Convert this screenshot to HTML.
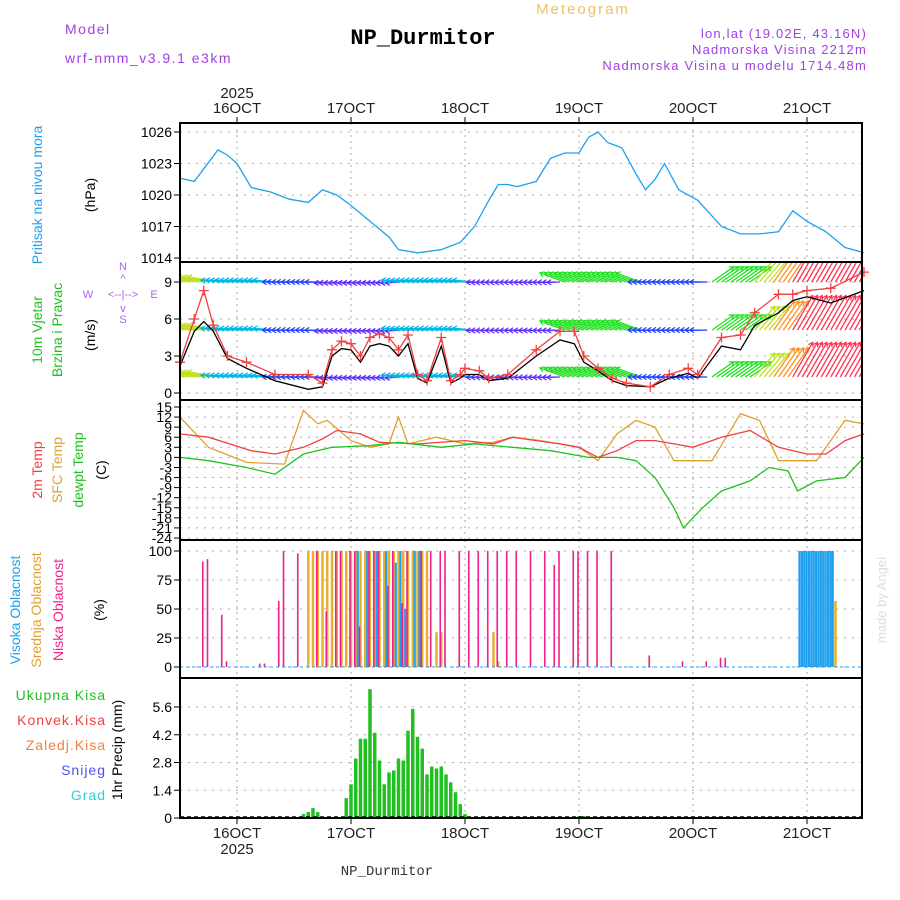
<!DOCTYPE html>
<html><head><meta charset="utf-8"><style>
body{margin:0;background:#fff;width:900px;height:900px;overflow:hidden}
svg{display:block;font-family:"Liberation Sans",sans-serif}
</style></head><body>
<svg id="c" width="900" height="900" xmlns="http://www.w3.org/2000/svg">
<defs><clipPath id="wclip"><rect x="180" y="262" width="682" height="138"/></clipPath></defs>
<g>
<text x="65" y="34" fill="#a040e0" font-size="14" letter-spacing="1.5">Model</text>
<text x="65" y="63" fill="#a040e0" font-size="14" letter-spacing="1.5">wrf-nmm_v3.9.1 e3km</text>
<text x="423" y="44" fill="#000" font-size="22" font-weight="bold" font-family="Liberation Mono" text-anchor="middle">NP_Durmitor</text>
<text x="583" y="14" fill="#f0c060" font-size="15" letter-spacing="2" text-anchor="middle">Meteogram</text>
<text x="867" y="38" fill="#a040e0" font-size="13" letter-spacing="1.2" text-anchor="end">lon,lat (19.02E, 43.16N)</text>
<text x="867" y="54" fill="#a040e0" font-size="13" letter-spacing="1.2" text-anchor="end">Nadmorska Visina 2212m</text>
<text x="867" y="70" fill="#a040e0" font-size="13" letter-spacing="1.2" text-anchor="end">Nadmorska Visina u modelu 1714.48m</text>
</g>
<g font-size="14">
<text transform="translate(42,195) rotate(-90)" fill="#1ea0f0" text-anchor="middle">Pritisak na nivou mora</text>
<text transform="translate(95,195) rotate(-90)" fill="#000" text-anchor="middle">(hPa)</text>
<text transform="translate(42,330) rotate(-90)" fill="#20c020" text-anchor="middle">10m Vjetar</text>
<text transform="translate(62,330) rotate(-90)" fill="#20c020" text-anchor="middle">Brzina i Pravac</text>
<text transform="translate(95,335) rotate(-90)" fill="#000" text-anchor="middle">(m/s)</text>
<g fill="#b060f0" font-size="11" text-anchor="middle">
<text x="123" y="270">N</text><text x="123" y="282">^</text><text x="88" y="298">W</text><text x="123" y="298">&lt;--|--&gt;</text><text x="154" y="298">E</text><text x="123" y="312">v</text><text x="123" y="323">S</text></g>
<text transform="translate(42,470) rotate(-90)" fill="#f04040" text-anchor="middle">2m Temp</text>
<text transform="translate(62,470) rotate(-90)" fill="#e0a030" text-anchor="middle">SFC Temp</text>
<text transform="translate(83,470) rotate(-90)" fill="#20c020" text-anchor="middle">dewpt Temp</text>
<text transform="translate(106,470) rotate(-90)" fill="#000" text-anchor="middle">(C)</text>
<text transform="translate(20,610) rotate(-90)" fill="#1ea0f0" text-anchor="middle">Visoka Oblacnost</text>
<text transform="translate(41,610) rotate(-90)" fill="#e0a030" text-anchor="middle">Srednja Oblacnost</text>
<text transform="translate(63,610) rotate(-90)" fill="#f0208a" text-anchor="middle">Niska Oblacnost</text>
<text transform="translate(104,610) rotate(-90)" fill="#000" text-anchor="middle">(%)</text>
<g text-anchor="end" letter-spacing="1">
<text x="106" y="700" fill="#20c020">Ukupna  Kisa</text>
<text x="106" y="725" fill="#f04040">Konvek.Kisa</text>
<text x="106" y="750" fill="#f08040">Zaledj.Kisa</text>
<text x="106" y="775" fill="#5050f0">Snijeg</text>
<text x="106" y="800" fill="#30d0d0">Grad</text></g>
<text transform="translate(122,750) rotate(-90)" fill="#000" text-anchor="middle">1hr Precip (mm)</text>
<text transform="translate(886,600) rotate(-90)" fill="#d8e0d8" text-anchor="middle" font-size="13">made by Angel</text>
</g>
<g id="plot"></g>
<text x="387" y="875" text-anchor="middle" font-size="14" font-family="Liberation Mono" fill="#333">NP_Durmitor</text>
</svg>
<script>
const dayLabels=["16OCT","17OCT","18OCT","19OCT","20OCT","21OCT"];
const pHours=[0,3,5,8,10,12,15,19,23,27,30,33,36,40,44,46,50,55,59,62,65,67,69,71,75,78,81,84,86,88,90,93,96,98,100,102,105,109,114,118,122,126,129,132,136,140,144];
const pVals=[1021.6,1021.3,1022.5,1024.3,1023.8,1023,1020.7,1020.3,1019.6,1019.3,1020.5,1020,1019,1017.5,1016,1014.8,1014.5,1014.8,1015.5,1017,1019.5,1021,1021,1020.8,1021.3,1023.5,1024,1024,1025.5,1026,1025,1024.5,1022,1020.5,1021.5,1023,1020.5,1019.5,1017,1016.3,1016.3,1016.5,1018.5,1017.5,1016.5,1015,1014.5];
const pTicks=[1014,1017,1020,1023,1026];
const wHours=[0,3,5,7,10,14,20,27,30,32,34,36,38,40,42,44,46,48,50,52,55,57,59,60,63,65,69,75,80,83,85,88,91,94,99,103,107,109,114,118,121,126,129,132,137,144];
const gust=[2.5,6,8.3,5.5,3,2.5,1.5,1.5,0.8,3.5,4.2,4,3,4.5,4.8,4.5,3.5,4.7,1.5,1,4.5,1,1.5,2,1.8,1.2,1.5,3.5,5,5,3,2,1.2,0.8,0.5,1.5,2,1.5,4.5,4.7,6.5,8,8,8.3,8.5,9.8];
const wMean=[2.2,5,5.8,5,2.8,2,1,0.3,0.5,3,3.6,3.5,2.5,3.8,4,3.8,3,4,1.2,0.8,3.8,0.8,1.2,1.5,1.5,1,1.2,3,4.3,4,2.5,1.8,1,0.6,0.5,1.2,1.6,1.2,3.8,3.5,5.5,6.5,7.5,7.8,7.3,8.3];
const wTicks=[0,3,6,9];
const barbSpd=[6,6,6,6,6,6,6,6,6, 4,4,4,4,4,4,4,4,4,4,4,4, 3,3,3,3,3,3,3,3,3,3, 2,2,2,2,2,2,2,2,2,2,2,2,2,2,2,2, 4,4,4,4,4,4,4,4,4,4,4,4,4,4,4,4, 2,2,2,2,2,2,2,2,2,2,2,2,2,2,2,2,2,2, 5,5,5,5,5,5,5,5,5,5,5,5,5,5,5,5,5, 3,3,3,3,3,3,3,3,3,3,3,3,3,3, 5,5,5,5,5,5,5,5,5, 6,6,6,6, 7,7,7,7, 8,8,8,8,8,8,8,8,8,8,8,8,8,8,8,8];
const barbDir=[170,170,170,170,170,170,170,170,170, 175,175,175,175,175,175,175,175,175,175,175,175, 180,180,180,180,180,180,180,180,180,180, 185,185,185,185,185,185,185,185,185,185,185,185,185,185,185,185, 175,175,175,175,175,175,175,175,175,175,175,175,175,175,175,175, 182,182,182,182,182,182,182,182,182,182,182,182,182,182,182,182,182,182, 160,160,160,160,160,160,160,160,160,160,160,160,160,160,160,160,160, 180,180,180,180,180,180,180,180,180,180,180,180,180,180, 35,35,35,35,35,35,35,35,35, 50,50,50,50, 55,55,55,55, 60,60,60,60,60,60,60,60,60,60,60,60,60,60,60,60];
const rowLevels=[1.3,5.1,9.0];
const tHours=[0,6,15,20,26,30,33,38,42,50,60,66,70,75,80,84,88,92,96,100,104,108,114,120,126,132,136,140,144];
const t2m=[7,6,2,1,3,5.5,8,7,4.5,4,5,4,6,5,4,3,0,2,5,5,4,3,6,8,3,1,1,5,7];
const sHours=[0,6,14,22,26,29,31,36,40,44,46,48,54,60,66,70,76,84,88,92,96,100,104,112,118,122,126,134,140,144];
const tsfc=[12,3,-1.5,-2,14,10,11,5,3,4,12,4,6,4,4.5,6,5,3,-1,7,11,9,-1,-1,13,11,-1,-1,11,10];
const dHours=[0,6,14,20,26,32,40,46,55,62,70,78,86,92,96,100,104,106,110,114,120,124,128,130,134,140,144];
const tdew=[0,-1,-3,-5,1,3,3.5,4.5,3,4,3,2,0,0,-1,-6,-15,-21,-15,-10,-7,-3,-4,-10,-7,-6,0];
const tTicks=[15,12,9,6,3,0,-3,-6,-9,-12,-15,-18,-21,-24];
const lowH=[5,6,9,10,17,18,21,22,25,29,31,33,34,36,37,38,40,41,42,44,45,47,48,51,53,55,56,59,61,63,65,67,69,71,74,77,79,80,83,84,86,88,91,99,106,111,114,115];
const lowV=[91,93,45,5,3,3,57,100,98,100,48,100,100,100,100,35,100,100,100,70,100,55,100,100,100,100,100,100,100,100,100,100,100,100,100,100,88,100,100,100,100,100,100,10,5,5,8,8];
const midH=[27,28,29,30,31,32,33,34,35,36,37,38,39,40,41,42,43,44,45,46,47,48,49,50,51,52,54,55,66,67,137,138];
const midV=[100,100,100,100,100,100,100,100,100,100,100,100,100,100,100,100,100,100,100,100,100,100,100,100,100,100,30,30,30,5,100,57];
const highH=[37,39,41,43,45,46,47,49,50,130,130.5,131,131.5,132,132.5,133,133.5,134,134.5,135,135.5,136,136.5,137];
const highV=[100,100,100,100,90,100,50,100,100,100,100,100,100,100,100,100,100,100,100,100,100,100,100,100];
const cTicks=[0,25,50,75,100];
const prH=[26,27,28,29,35,36,37,38,39,40,41,42,43,44,45,46,47,48,49,50,51,52,53,54,55,56,57,58,59,60,84,85];
const prV=[0.2,0.3,0.5,0.3,1,1.7,3,4,4,6.5,4.3,2.9,1.7,2.3,2.4,3,2.9,4.4,5.5,4.1,3.5,2.2,2.6,2.5,2.6,2.2,1.8,1.3,0.7,0.2,0.1,0.1];
const prTicks=[0,1.4,2.8,4.2,5.6];

const NS="http://www.w3.org/2000/svg",plot=document.getElementById('plot');
function mk(tag,a,parent){const e=document.createElementNS(NS,tag);for(const k in a)e.setAttribute(k,a[k]);(parent||plot).appendChild(e);return e;}
const X0=180,X1=862;
const xs=h=>X0+h*4.75;
const lin=(d0,d1,r0,r1)=>v=>r0+(v-d0)*(r1-r0)/(d1-d0);
const yP=lin(1014,1026,258,132),yW=lin(0,9,393,282),yT=lin(15,-24,407,538),yC=lin(0,100,667,551),yR=lin(0,5.6,818,707);
const panels=[[123,262,'pressure-panel'],[262,400,'wind-panel'],[400,540,'temp-panel'],[540,678,'cloud-panel'],[678,818,'precip-panel']];
function grid(top,bot,ticks,ys,name){
  const g=mk('g',{});
  
  
  ticks.forEach(t=>{const y=ys(t);mk('line',{x1:X0,x2:X1,y1:y,y2:y,stroke:'#aaa','stroke-dasharray':'2,6'},g);
    mk('line',{x1:X0-6,x2:X0,y1:y,y2:y,stroke:'#000'},g);
    const tx=mk('text',{x:X0-8,y:y+5,'text-anchor':'end','font-size':14,fill:'#000'},g);tx.textContent=t;});
  dayLabels.forEach((d,i)=>{const x=xs(12+24*i);mk('line',{x1:x,x2:x,y1:top,y2:bot,stroke:'#aaa','stroke-dasharray':'2,4'},g);});
}
function path(hs,vs,xf,yf,col,name,w){
  const p=mk('path',{d:hs.map((h,i)=>(i?'L':'M')+xf(h).toFixed(1)+','+yf(vs[i]).toFixed(1)).join(''),fill:'none',stroke:col,'stroke-width':w||1.3});
  
  
}
grid(123,262,pTicks,yP,'pressure');
path(pHours,pVals,xs,yP,'#1ea0f0','pressure-line');
grid(262,400,wTicks,yW,'wind');
const cols=['#8000ff','#7020ff','#6030ff','#2040ff','#00b8e8','#20e020','#c0e020','#ff9020','#ff3050'];
const bg=mk('g',{'clip-path':'url(#wclip)'});


rowLevels.forEach((lv,ri)=>{
  barbDir.forEach((d,i)=>{const x=xs(i),y=yW(lv),L=4+barbSpd[i]*4.5,a=d*Math.PI/180;
    const x2=x+L*Math.cos(a),y2=y-L*Math.sin(a),c=cols[Math.min(barbSpd[i],8)];
    const ln=mk('line',{x1:x,y1:y,x2:x2,y2:y2,stroke:c,'stroke-width':1.3},bg);
    
    
    const h1=a+Math.PI*0.82,h2=a-Math.PI*0.82;
    mk('path',{d:`M${x2+5*Math.cos(h1)},${y2-5*Math.sin(h1)}L${x2},${y2}L${x2+5*Math.cos(h2)},${y2-5*Math.sin(h2)}`,fill:'none',stroke:c,'stroke-width':1.2},bg);
  });
});
path(wHours,wMean,xs,yW,'#000','wind-mean-line');
path(wHours,gust,xs,yW,'#f04040','wind-gust-line');
wHours.forEach((h,i)=>{const x=xs(h),y=yW(gust[i]);const m=mk('path',{d:`M${x-5},${y}H${x+5}M${x},${y-5}V${y+5}`,stroke:'#f04040','stroke-width':1.3});
  
  });
grid(400,540,tTicks,yT,'temp');
path(sHours,tsfc,xs,yT,'#e0a030','sfc-temp-line');
path(tHours,t2m,xs,yT,'#f04040','temp-2m-line');
path(dHours,tdew,xs,yT,'#20c020','dewpt-line');
grid(540,678,cTicks,yC,'cloud');
function bars(hs,vs,yf,col,name,w,dx){hs.forEach((h,i)=>{const x=xs(h)+dx,y=yf(vs[i]),y0=yf(0);
  const r=mk('rect',{x:x-w/2,y:y,width:w,height:y0-y,fill:col});
  
  });}
bars(midH,midV,yC,'#e8b030','mid-cloud-bar',2.5,0);
bars(highH,highV,yC,'#1ea0f0','high-cloud-bar',2.2,2);
bars(lowH,lowV,yC,'#f0208a','low-cloud-bar',1.6,-1);
mk('line',{x1:X0,x2:X1,y1:yC(0),y2:yC(0),stroke:'#1ea0f0','stroke-dasharray':'3,3'});
grid(678,818,prTicks,yR,'precip');
bars(prH,prV,yR,'#20c020','precip-bar',3.5,0);
mk('line',{x1:X0,x2:X1,y1:817,y2:817,stroke:'#000','stroke-dasharray':'4,3','stroke-width':1.5});
panels.forEach(p=>{const r=mk('rect',{x:X0,y:p[0],width:X1-X0,height:p[1]-p[0],fill:'none',stroke:'#000','stroke-width':2});
  
  });
dayLabels.forEach((d,i)=>{const x=xs(12+24*i);
  mk('line',{x1:x,x2:x,y1:117,y2:123,stroke:'#000'});mk('line',{x1:x,x2:x,y1:818,y2:824,stroke:'#000'});
  const t=mk('text',{x:x,y:113,'text-anchor':'middle','font-size':15,fill:'#222'});t.textContent=d;
  
  
  const b=mk('text',{x:x,y:838,'text-anchor':'middle','font-size':15,fill:'#222'});b.textContent=d;
  
  });
[[98],[854]].forEach(v=>{const t=mk('text',{x:xs(12),y:v[0],'text-anchor':'middle','font-size':15,fill:'#222'});t.textContent='2025';
  
  });
</script>
</body></html>
